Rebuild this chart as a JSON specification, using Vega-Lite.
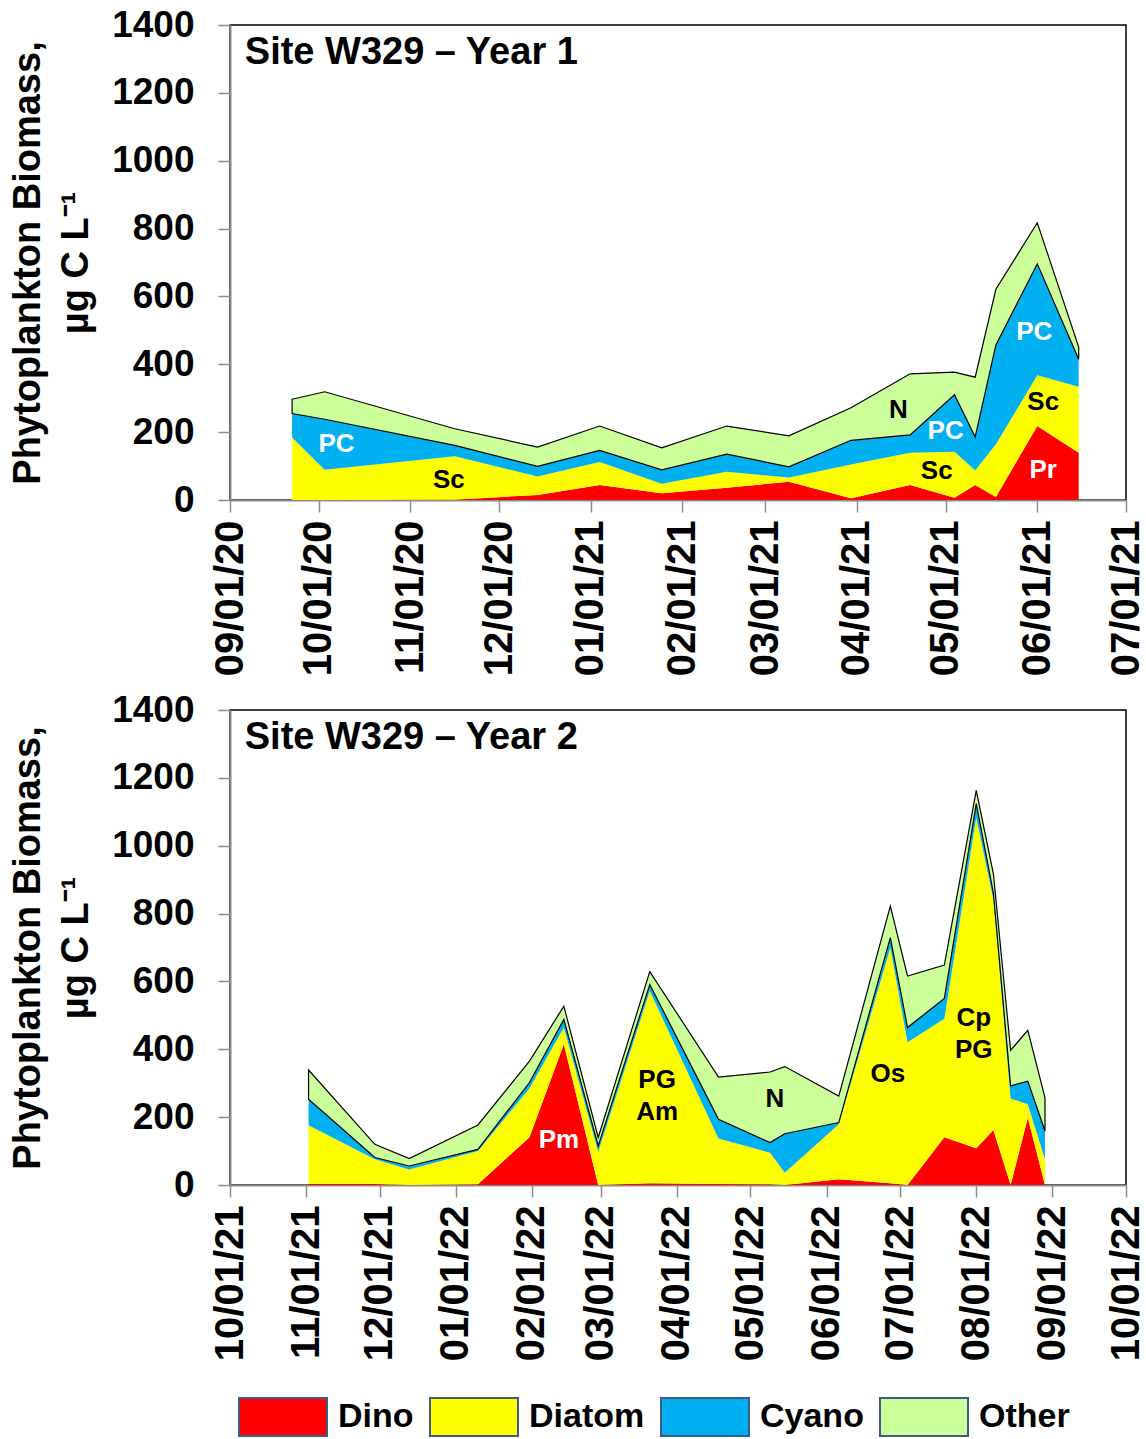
{
  "$schema": "https://vega.github.io/schema/vega-lite/v6.json",
  "padding": {"left": 8, "top": 5, "right": 0, "bottom": 0},
  "background": "white",
  "spacing": 13,
  "config": {
    "font": "Liberation Sans",
    "view": {"stroke": "black", "strokeWidth": 1.5},
    "axis": {
      "labelFont": "Liberation Sans", "labelFontWeight": "bold", "labelColor": "black",
      "domainColor": "#8c8c8c", "domainWidth": 2, "tickColor": "#8c8c8c", "tickWidth": 1.5, "tickSize": 12,
      "grid": false, "titleFont": "Liberation Sans", "titleFontWeight": "bold", "titleColor": "black"
    },
    "legend": {
      "title": null, "orient": "none", "legendX": 8, "legendY": 1347, "direction": "horizontal",
      "symbolType": "M-1,-0.43H1V0.43H-1Z", "symbolSize": 7744, "symbolStrokeColor": "#3C5A8C",
      "symbolStrokeWidth": 2, "symbolOpacity": 1, "labelFontSize": 34, "labelFont": "Liberation Sans",
      "labelFontWeight": "bold", "labelColor": "black", "labelOffset": 10, "columnPadding": 12, "labelLimit": 300
    }
  },
  "datasets": {
    "y1": [
      {"date": "2020-09-22", "Dino": 0, "Diatom": 184, "Cyano": 71, "Other": 42},
      {"date": "2020-10-03", "Dino": 0, "Diatom": 89, "Cyano": 149, "Other": 81},
      {"date": "2020-11-16", "Dino": 1, "Diatom": 128, "Cyano": 32, "Other": 49},
      {"date": "2020-12-14", "Dino": 15, "Diatom": 54, "Cyano": 30, "Other": 57},
      {"date": "2021-01-04", "Dino": 44, "Diatom": 68, "Cyano": 34, "Other": 72},
      {"date": "2021-01-25", "Dino": 20, "Diatom": 28, "Cyano": 41, "Other": 65},
      {"date": "2021-02-16", "Dino": 36, "Diatom": 47, "Cyano": 52, "Other": 83},
      {"date": "2021-03-09", "Dino": 54, "Diatom": 12, "Cyano": 32, "Other": 91},
      {"date": "2021-03-30", "Dino": 5, "Diatom": 100, "Cyano": 71, "Other": 96},
      {"date": "2021-04-19", "Dino": 44, "Diatom": 95, "Cyano": 53, "Other": 180},
      {"date": "2021-05-04", "Dino": 7, "Diatom": 135, "Cyano": 168, "Other": 67},
      {"date": "2021-05-11", "Dino": 44, "Diatom": 43, "Cyano": 99, "Other": 176},
      {"date": "2021-05-18", "Dino": 9, "Diatom": 155, "Cyano": 293, "Other": 164},
      {"date": "2021-06-01", "Dino": 218, "Diatom": 150, "Cyano": 328, "Other": 121},
      {"date": "2021-06-15", "Dino": 139, "Diatom": 195, "Cyano": 81, "Other": 36}
    ],
    "y2": [
      {"date": "2021-11-02", "Dino": 3, "Diatom": 173, "Cyano": 77, "Other": 86},
      {"date": "2021-11-29", "Dino": 3, "Diatom": 73, "Cyano": 5, "Other": 39},
      {"date": "2021-12-13", "Dino": 0, "Diatom": 46, "Cyano": 10, "Other": 22},
      {"date": "2022-01-10", "Dino": 2, "Diatom": 98, "Cyano": 5, "Other": 72},
      {"date": "2022-01-31", "Dino": 141, "Diatom": 144, "Cyano": 17, "Other": 63},
      {"date": "2022-02-14", "Dino": 415, "Diatom": 49, "Cyano": 24, "Other": 39},
      {"date": "2022-02-28", "Dino": 0, "Diatom": 98, "Cyano": 17, "Other": 25},
      {"date": "2022-03-21", "Dino": 5, "Diatom": 567, "Cyano": 19, "Other": 38},
      {"date": "2022-04-18", "Dino": 3, "Diatom": 134, "Cyano": 57, "Other": 124},
      {"date": "2022-05-09", "Dino": 2, "Diatom": 93, "Cyano": 30, "Other": 208},
      {"date": "2022-05-15", "Dino": 0, "Diatom": 36, "Cyano": 115, "Other": 198},
      {"date": "2022-06-06", "Dino": 17, "Diatom": 162, "Cyano": 5, "Other": 78},
      {"date": "2022-06-27", "Dino": 5, "Diatom": 694, "Cyano": 30, "Other": 93},
      {"date": "2022-07-04", "Dino": 0, "Diatom": 421, "Cyano": 43, "Other": 152},
      {"date": "2022-07-19", "Dino": 141, "Diatom": 349, "Cyano": 60, "Other": 98},
      {"date": "2022-08-01", "Dino": 108, "Diatom": 975, "Cyano": 41, "Other": 39},
      {"date": "2022-08-08", "Dino": 162, "Diatom": 678, "Cyano": 20, "Other": 56},
      {"date": "2022-08-15", "Dino": 0, "Diatom": 255, "Cyano": 37, "Other": 105},
      {"date": "2022-08-22", "Dino": 198, "Diatom": 40, "Cyano": 68, "Other": 150},
      {"date": "2022-08-29", "Dino": 0, "Diatom": 76, "Cyano": 83, "Other": 98}
    ],
    "t1": [{"date": "2020-09-06", "value": 1318, "text": "Site W329 – Year 1"}],
    "t2": [{"date": "2021-10-07", "value": 1318, "text": "Site W329 – Year 2"}],
    "lab1w": [
      {"date": "2020-10-07", "value": 165, "text": "PC"},
      {"date": "2021-05-01", "value": 203, "text": "PC"},
      {"date": "2021-05-31", "value": 495, "text": "PC"},
      {"date": "2021-06-03", "value": 88, "text": "Pr"}
    ],
    "lab1b": [
      {"date": "2020-11-14", "value": 59, "text": "Sc"},
      {"date": "2021-04-15", "value": 265, "text": "N"},
      {"date": "2021-04-28", "value": 85, "text": "Sc"},
      {"date": "2021-06-03", "value": 289, "text": "Sc"}
    ],
    "lab2w": [
      {"date": "2022-02-12", "value": 133, "text": "Pm"}
    ],
    "lab2b": [
      {"date": "2022-03-24", "value": 309, "text": "PG"},
      {"date": "2022-03-24", "value": 215, "text": "Am"},
      {"date": "2022-05-11", "value": 253, "text": "N"},
      {"date": "2022-06-26", "value": 327, "text": "Os"},
      {"date": "2022-07-31", "value": 492, "text": "Cp"},
      {"date": "2022-07-31", "value": 398, "text": "PG"}
    ]
  },
  "vconcat": [
    {
      "width": 896, "height": 475,
      "encoding": {
        "x": {"field": "date", "type": "temporal",
          "scale": {"type": "utc", "domain": [{"year": 2020, "month": 9, "date": 1, "utc": true}, {"year": 2021, "month": 7, "date": 1, "utc": true}]},
          "axis": {"title": null, "format": "%m/%d/%y", "labelAngle": -90, "labelFontSize": 40, "tickCount": {"interval": "month", "step": 1}, "labelPadding": 8, "labelOverlap": false, "labelFlush": false}},
        "y": {"field": "value", "type": "quantitative",
          "scale": {"domain": [0, 1400], "nice": false},
          "axis": {"title": ["Phytoplankton Biomass,", "µg C L⁻¹"], "format": "d", "values": [0, 200, 400, 600, 800, 1000, 1200, 1400], "labelFontSize": 37, "labelPadding": 24, "titleFontSize": 38, "titleLineHeight": 48, "titlePadding": 16}}
      },
      "layer": [
        {
          "data": {"name": "y1"},
          "transform": [
            {"fold": ["Dino", "Diatom", "Cyano", "Other"], "as": ["group", "value"]},
            {"window": [{"op": "row_number", "as": "ord"}], "groupby": ["date"]}
          ],
          "mark": {"type": "area", "stroke": "black", "interpolate": "linear"},
          "encoding": {
            "color": {"field": "group", "type": "nominal", "sort": ["Dino", "Diatom", "Cyano", "Other"],
              "scale": {"domain": ["Dino", "Diatom", "Cyano", "Other"], "range": ["#FF0000", "#FFFF00", "#00B0F0", "#CCFF99"]}},
            "order": {"field": "ord", "type": "quantitative", "sort": "ascending"},
            "strokeWidth": {"condition": {"test": "datum.group === 'Other'", "value": 1.2}, "value": 0}
          }
        },
        {
          "data": {"name": "lab1w"},
          "mark": {"type": "text", "fontWeight": "bold", "fontSize": 26, "color": "white", "font": "Liberation Sans"},
          "encoding": {"text": {"field": "text"}}
        },
        {
          "data": {"name": "lab1b"},
          "mark": {"type": "text", "fontWeight": "bold", "fontSize": 26, "color": "black", "font": "Liberation Sans"},
          "encoding": {"text": {"field": "text"}}
        },
        {
          "data": {"name": "t1"},
          "mark": {"type": "text", "fontWeight": "bold", "fontSize": 38, "color": "black", "align": "left", "font": "Liberation Sans"},
          "encoding": {"text": {"field": "text"}}
        }
      ]
    },
    {
      "width": 896, "height": 475,
      "encoding": {
        "x": {"field": "date", "type": "temporal",
          "scale": {"type": "utc", "domain": [{"year": 2021, "month": 10, "date": 1, "utc": true}, {"year": 2022, "month": 10, "date": 1, "utc": true}]},
          "axis": {"title": null, "format": "%m/%d/%y", "labelAngle": -90, "labelFontSize": 40, "tickCount": {"interval": "month", "step": 1}, "labelPadding": 8, "labelOverlap": false, "labelFlush": false}},
        "y": {"field": "value", "type": "quantitative",
          "scale": {"domain": [0, 1400], "nice": false},
          "axis": {"title": ["Phytoplankton Biomass,", "µg C L⁻¹"], "format": "d", "values": [0, 200, 400, 600, 800, 1000, 1200, 1400], "labelFontSize": 37, "labelPadding": 24, "titleFontSize": 38, "titleLineHeight": 48, "titlePadding": 16}}
      },
      "layer": [
        {
          "data": {"name": "y2"},
          "transform": [
            {"fold": ["Dino", "Diatom", "Cyano", "Other"], "as": ["group", "value"]},
            {"window": [{"op": "row_number", "as": "ord"}], "groupby": ["date"]}
          ],
          "mark": {"type": "area", "stroke": "black", "interpolate": "linear"},
          "encoding": {
            "color": {"field": "group", "type": "nominal", "sort": ["Dino", "Diatom", "Cyano", "Other"],
              "scale": {"domain": ["Dino", "Diatom", "Cyano", "Other"], "range": ["#FF0000", "#FFFF00", "#00B0F0", "#CCFF99"]}},
            "order": {"field": "ord", "type": "quantitative", "sort": "ascending"},
            "strokeWidth": {"condition": {"test": "datum.group === 'Other'", "value": 1.2}, "value": 0}
          }
        },
        {
          "data": {"name": "lab2w"},
          "mark": {"type": "text", "fontWeight": "bold", "fontSize": 26, "color": "white", "font": "Liberation Sans"},
          "encoding": {"text": {"field": "text"}}
        },
        {
          "data": {"name": "lab2b"},
          "mark": {"type": "text", "fontWeight": "bold", "fontSize": 26, "color": "black", "font": "Liberation Sans"},
          "encoding": {"text": {"field": "text"}}
        },
        {
          "data": {"name": "t2"},
          "mark": {"type": "text", "fontWeight": "bold", "fontSize": 38, "color": "black", "align": "left", "font": "Liberation Sans"},
          "encoding": {"text": {"field": "text"}}
        }
      ]
    }
  ]
}
